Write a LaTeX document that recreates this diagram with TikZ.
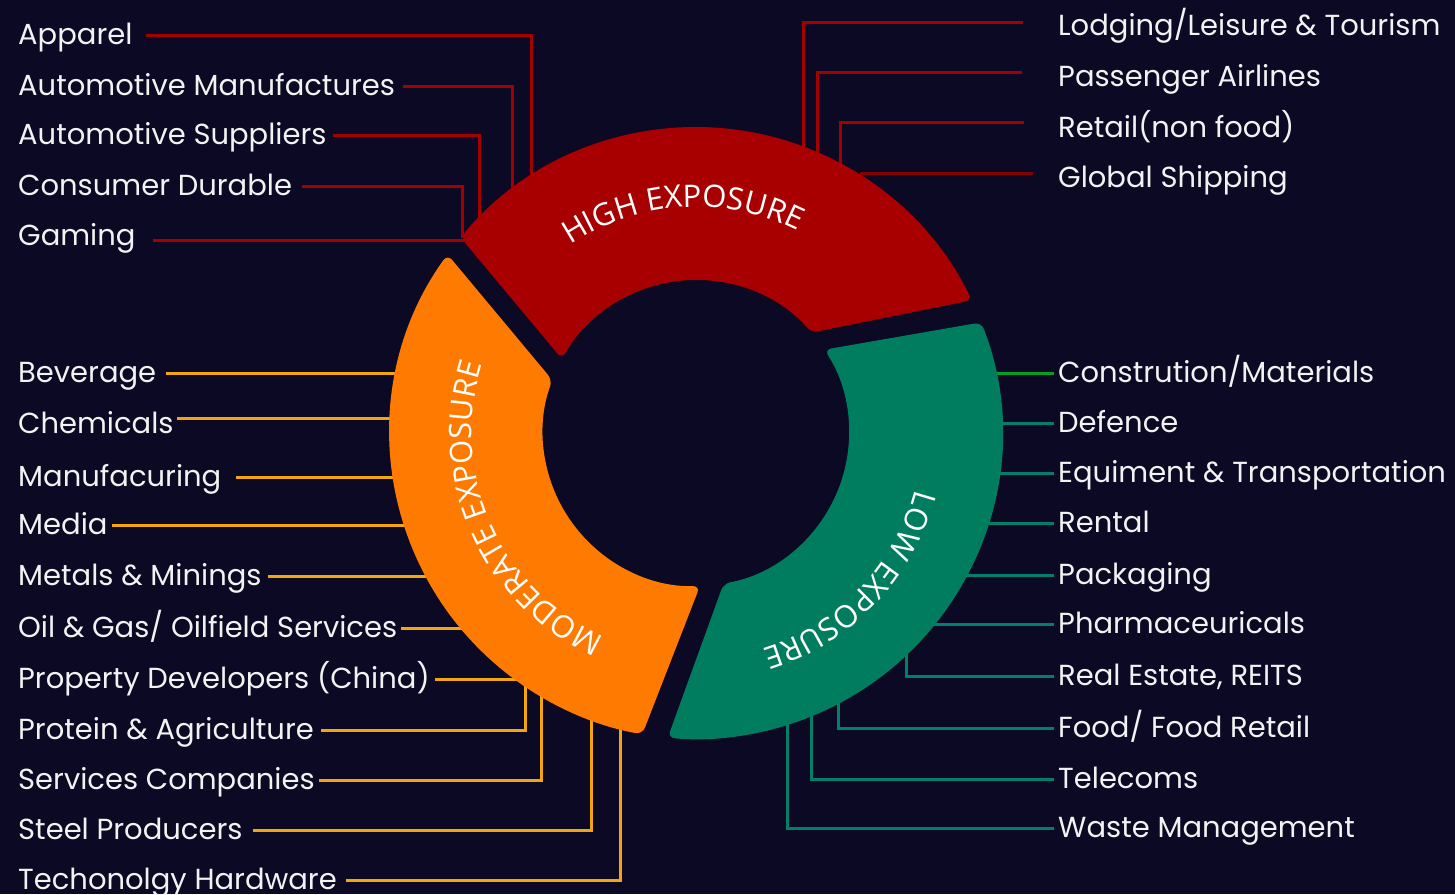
\documentclass[tikz,border=0pt]{standalone}
\usepackage{fontspec}
\setmainfont{Poppins}
\newfontfamily\ringfont{Open Sans}
\usetikzlibrary{decorations.text}
\definecolor{bg}{HTML}{0B0923}
\definecolor{redseg}{HTML}{A80000}
\definecolor{orangeseg}{HTML}{FF7A00}
\definecolor{greenseg}{HTML}{007D5E}
\definecolor{redline}{HTML}{A50000}
\definecolor{darkredline}{HTML}{850000}
\definecolor{orangeline}{HTML}{F2A50C}
\definecolor{greenline}{HTML}{00806A}
\definecolor{brightgreen}{HTML}{00A024}
\definecolor{txt}{HTML}{F2F2F2}
\begin{document}
\begin{tikzpicture}[x=1pt,y=-1pt,
  lab/.style={text=txt, font=\fontsize{29}{32}\selectfont, inner sep=0pt,
              text height=24pt, text depth=6pt, anchor=west},
  conn/.style={line width=3pt},
  rl/.style={conn, draw=redline},
  drl/.style={conn, draw=darkredline},
  ol/.style={conn, draw=orangeline},
  gl/.style={conn, draw=greenline},
  bgl/.style={conn, draw=brightgreen},
  seg/.style={rounded corners=7pt},
  ringtext/.style={decorate, decoration={text along path, text align=center,
              text color=white, text={|\ringfont\fontsize{31}{36}\selectfont|#1}}}
]
\useasboundingbox (0,0) rectangle (1455,894);
\fill[bg] (0,0) rectangle (1455,894);
\coordinate (C) at (696,433);

% ---------- labels, left ----------
\node[lab] (L1) at (18,35) {Apparel};
\node[lab] (L2) at (18,86) {Automotive Manufactures};
\node[lab] (L3) at (18,135) {Automotive Suppliers};
\node[lab] (L4) at (18,186) {Consumer Durable};
\node[lab] (L5) at (18,236.5) {Gaming};
\node[lab] (L6) at (18,373) {Beverage};
\node[lab] (L7) at (18,424) {Chemicals};
\node[lab] (L8) at (18,477) {Manufacuring};
\node[lab] (L9) at (18,525) {Media};
\node[lab] (L10) at (18,576) {Metals \& Minings};
\node[lab] (L11) at (18,628) {Oil \& Gas/ Oilfield Services};
\node[lab] (L12) at (18,679) {Property Developers (China)};
\node[lab] (L13) at (18,730) {Protein \& Agriculture};
\node[lab] (L14) at (18,780) {Services Companies};
\node[lab] (L15) at (18,830) {Steel Producers};
\node[lab] (L16) at (18,880) {Techonolgy Hardware};

% ---------- labels, right ----------
\node[lab] (R1) at (1058,26) {Lodging/Leisure \& Tourism};
\node[lab] (R2) at (1058,77) {Passenger Airlines};
\node[lab] (R3) at (1058,128) {Retail(non food)};
\node[lab] (R4) at (1058,178) {Global Shipping};
\node[lab] (R5) at (1058,373) {Constrution/Materials};
\node[lab] (R6) at (1058,423) {Defence};
\node[lab] (R7) at (1058,473) {Equiment \& Transportation};
\node[lab] (R8) at (1058,523) {Rental};
\node[lab] (R9) at (1058,575) {Packaging};
\node[lab] (R10) at (1058,624) {Pharmaceuricals};
\node[lab] (R11) at (1058,676) {Real Estate, REITS};
\node[lab] (R12) at (1058,728) {Food/ Food Retail};
\node[lab] (R13) at (1058,779) {Telecoms};
\node[lab] (R14) at (1058,828) {Waste Management};

% ---------- connectors ----------
\draw[rl] (L1.east) ++(13pt,0) -- (531,35) -- (531,177);
\draw[rl] (L2.east) ++(8pt,0) -- (512,86) -- (512,190);
\draw[rl] (L3.east) ++(6pt,0) -- (479,135) -- (479,219);
\draw[rl] (L4.east) ++(10pt,0) -- (462.7,186) -- (462.7,238);
\draw[rl] (L5.east) ++(17pt,-3.5pt) -- (464,240);

\draw[rl] (R1.west) ++(-35pt,4pt) -- (803,22) -- (803,149);
\draw[rl] (R2.west) ++(-36pt,5pt) -- (817,72) -- (817,155);
\draw[rl] (R3.west) ++(-34pt,6pt) -- (840,122) -- (840,166);
\draw[drl] (R4.west) ++(-25pt,5pt) -- (860,173);

\draw[ol] (L6.east) ++(10pt,0) -- (398,373);
\draw[ol] (L7.east) ++(3pt,6pt) -- (393,418);
\draw[ol] (L8.east) ++(14pt,0) -- (396,477);
\draw[ol] (L9.east) ++(4pt,0) -- (407,525);
\draw[ol] (L10.east) ++(6pt,0) -- (428,576);
\draw[ol] (L11.east) ++(4pt,0) -- (463,628);
\draw[ol] (L12.east) ++(5pt,0) -- (517,679);
\draw[ol] (L13.east) ++(7pt,0) -- (525,730) -- (525,684);
\draw[ol] (L14.east) ++(4pt,0) -- (541.5,780) -- (541.5,694);
\draw[ol] (L15.east) ++(10pt,0) -- (591,830) -- (591,717);
\draw[ol] (L16.east) ++(9pt,0) -- (620,880) -- (620,726);

\draw[bgl] (R5.west) ++(-4pt,0) -- (993,373);
\draw[gl] (R6.west) ++(-4pt,0) -- (999,423);
\draw[gl] (R7.west) ++(-4pt,0) -- (996,473);
\draw[gl] (R8.west) ++(-4pt,0) -- (985,523);
\draw[gl] (R9.west) ++(-4pt,0) -- (964,575);
\draw[gl] (R10.west) ++(-4pt,0) -- (931,624);
\draw[gl] (R11.west) ++(-4pt,0) -- (906,676) -- (906,652);
\draw[gl] (R12.west) ++(-4pt,0) -- (838.5,728) -- (838.5,701);
\draw[gl] (R13.west) ++(-4pt,0) -- (811,779) -- (811,713);
\draw[gl] (R14.west) ++(-4pt,0) -- (787,828) -- (787,722);

% ---------- ring ----------
\fill[redseg, seg] ([shift={(-140.3:306)}]C) arc[start angle=-140.3, end angle=-25.7, radius=306]
   -- ([shift={(-41:153)}]C) arc[start angle=-41, end angle=-151.1, radius=153] -- cycle;
\fill[greenseg, seg] ([shift={(-21.2:306)}]C) arc[start angle=-21.2, end angle=95.3, radius=306]
   -- ([shift={(79.6:153)}]C) arc[start angle=79.6, end angle=-33, radius=153] -- cycle;
\fill[orangeseg, seg] ([shift={(-144.3:306)}]C) arc[start angle=-144.3, end angle=-259.9, radius=306]
   -- ([shift={(-271.5:153)}]C) arc[start angle=-271.5, end angle=-159.8, radius=153] -- cycle;

\path[ringtext={HIGH EXPOSURE}] ([shift={(-153.5:226)}]C) arc[start angle=-153.5, end angle=-33.5, radius=226];
\path[ringtext={MODERATE EXPOSURE}] ([shift={(-264:224)}]C) arc[start angle=-264, end angle=-144, radius=224];
\path[ringtext={LOW EXPOSURE}] ([shift={(-16.3:226)}]C) arc[start angle=-16.3, end angle=103.7, radius=226];
\end{tikzpicture}
\end{document}
